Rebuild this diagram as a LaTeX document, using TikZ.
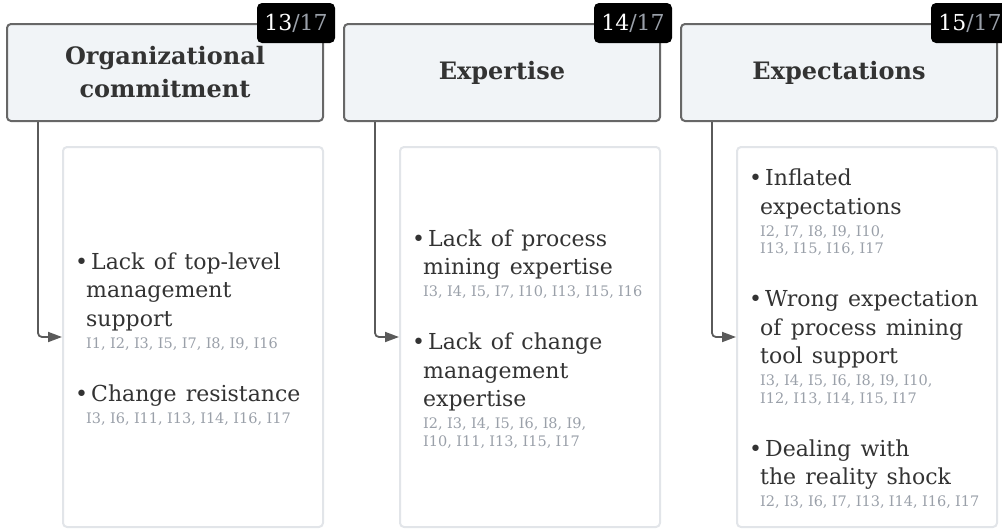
\documentclass[tikz,border=0pt]{standalone}
\usepackage{fontspec}
\setmainfont{DejaVu Serif}
\usetikzlibrary{arrows.meta, positioning, calc}

\definecolor{hdrfill}{HTML}{F1F4F7}
\definecolor{hdrline}{HTML}{676767}
\definecolor{boxline}{HTML}{E2E5E9}
\definecolor{txt}{HTML}{333333}
\definecolor{idgray}{HTML}{9AA0A9}
\definecolor{conngray}{HTML}{5A5A5A}

\setlength{\lineskiplimit}{-100pt}
\newcommand{\bul}{\hspace*{-11pt}\makebox[16pt][l]{\textbullet}}
\newcommand{\issue}[2]{{\fontsize{22}{28.5}\selectfont\spaceskip=0.42em\relax
    \noindent\bul #1\par}%
  \vspace{4.5pt}{\fontsize{14.5}{17.5}\selectfont\spaceskip=0.3em\relax
    \noindent\color{idgray}#2\par}}
\newcommand{\issuegap}{\vspace{24.5pt}}
\newcommand{\badgetxt}[1]{\textcolor{white}{#1}\textcolor{idgray}{/17}}

\begin{document}
\begin{tikzpicture}[x=1pt, y=-1pt,
    hdr/.style={draw=hdrline, line width=2pt, fill=hdrfill, rounded corners=4pt,
      minimum width=316pt, minimum height=97pt, inner sep=0pt, align=center,
      text=txt, font=\fontsize{24}{33}\selectfont\bfseries},
    badge/.style={fill=black, rounded corners=5pt, minimum width=78pt,
      minimum height=40pt, inner sep=0pt, font=\fontsize{22}{26}\selectfont},
    cbox/.style={draw=boxline, line width=2pt, fill=white, rounded corners=4pt,
      minimum width=260pt, minimum height=380pt, inner sep=0pt},
    items/.style={anchor=west, inner sep=0pt, text width=300pt, align=left,
      text=txt},
    conn/.style={draw=conngray, line width=1.8pt, rounded corners=4pt,
      -{Triangle[length=14pt, width=10pt]}}]

  \useasboundingbox (0,0) rectangle (1002,528);

  % header boxes
  \node[hdr] (hdr1) at (165,72.5) {Organizational\\commitment};
  \node[hdr] (hdr2) at (502,72.5) {Expertise};
  \node[hdr] (hdr3) at (839,72.5) {Expectations};

  \node[badge] (badge1) at ($(hdr1.north east)+(-28,0)$) {\badgetxt{13}};
  \node[badge] (badge2) at ($(hdr2.north east)+(-28,0)$) {\badgetxt{14}};
  \node[badge] (badge3) at ($(hdr3.north east)+(-28,0)$) {\badgetxt{15}};

  % content boxes
  \node[cbox] (cbox1) at (193,337) {};
  \node[cbox] (cbox2) at (530,337) {};
  \node[cbox] (cbox3) at (867,337) {};

  \draw[conn] ($(hdr1.south west)+(32,0)$) |- (cbox1.west);
  \draw[conn] ($(hdr2.south west)+(32,0)$) |- (cbox2.west);
  \draw[conn] ($(hdr3.south west)+(32,0)$) |- (cbox3.west);

  % issues
  \node[items] (list1) at ($(cbox1.west)+(24,2)$) {%
    \issue{Lack of top-level\\management\\support}{I1, I2, I3, I5, I7, I8, I9, I16}
    \issuegap
    \issue{Change resistance}{I3, I6, I11, I13, I14, I16, I17}};

  \node[items] (list2) at ($(cbox2.west)+(24,2)$) {%
    \issue{Lack of process\\mining expertise}{I3, I4, I5, I7, I10, I13, I15, I16}
    \issuegap
    \issue{Lack of change\\management\\expertise}{I2, I3, I4, I5, I6, I8, I9,\\I10, I11, I13, I15, I17}};

  \node[items] (list3) at ($(cbox3.west)+(24,2)$) {%
    \issue{Inflated\\expectations}{I2, I7, I8, I9, I10,\\I13, I15, I16, I17}
    \issuegap
    \issue{Wrong expectation\\of process mining\\tool support}{I3, I4, I5, I6, I8, I9, I10,\\I12, I13, I14, I15, I17}
    \issuegap
    \issue{Dealing with\\the reality shock}{I2, I3, I6, I7, I13, I14, I16, I17}};
\end{tikzpicture}
\end{document}
